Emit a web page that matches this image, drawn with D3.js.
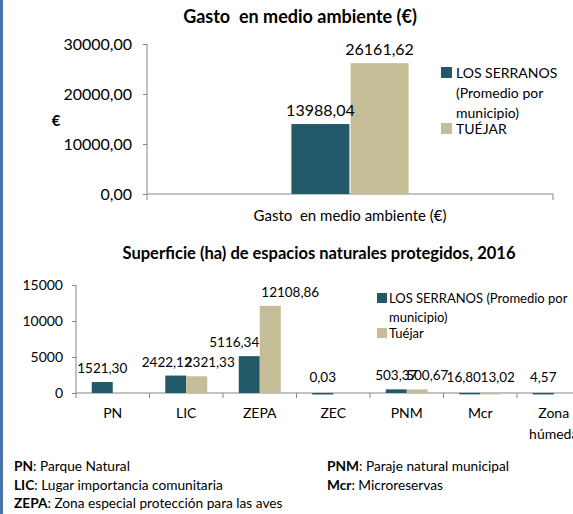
<!DOCTYPE html>
<html>
<head>
<meta charset="utf-8">
<title>Gasto y superficie protegida</title>
<style>
  body { margin: 0; background: #fff; }
  svg text { font-family: Lato, "Open Sans", sans-serif; fill: #000; white-space: pre; }
  .axis path, .axis line { stroke: #868686; }
</style>
<script src="https://d3js.org/d3.v7.min.js"></script>
</head>
<body>
<div id="chart"></div>
<script>
// --- data ---
var gastoCategory = ["Gasto  en medio ambiente (€)"];
var gastoSeries = ["LOS SERRANOS (Promedio por municipio)", "TUÉJAR"];
var gastoValues = [13988.04, 26161.62];
var gastoTicks = [0, 10000, 20000, 30000];

var espCategories = ["PN", "LIC", "ZEPA", "ZEC", "PNM", "Mcr", "Zona húmeda"];
var espSeries = ["LOS SERRANOS (Promedio por municipio)", "Tuéjar"];
var serranos = [1521.30, 2422.12, 5116.34, 0.03, 503.37, 16.80, 4.57];
var tuejar = [0, 2321.33, 12108.86, 0, 500.67, 13.02, 0];
var espTicks = [0, 5000, 10000, 15000];

var colors = ["#215968", "#c4bd97"];
var fmt = function(v) { return d3.format(".2f")(v).replace(".", ","); };

var width = 573, height = 514;
var svg = d3.select("#chart").append("svg")
  .attr("width", width).attr("height", height);

svg.append("rect").attr("x", 0).attr("y", 0).attr("width", 3).attr("height", height)
  .attr("fill", "#4a72a8");

// ---------- chart 1 ----------
var y1 = d3.scaleLinear().domain([0, 30000]).range([194, 44]);
var x1 = d3.scaleBand().domain(gastoCategory).range([147, 553]);
var x1s = d3.scaleBand().domain(gastoSeries).range([0, x1.bandwidth()]).paddingInner(0.02).paddingOuter(2.44);

svg.append("text").attr("x", 300).attr("y", 23).attr("text-anchor", "middle")
  .style("font-size", "18px").style("font-weight", "bold")
  .text("Gasto  en medio ambiente (€)");

var ax1 = svg.append("g").attr("class", "axis").attr("transform", "translate(147,0)")
  .call(d3.axisLeft(y1).tickValues(gastoTicks).tickSize(4).tickPadding(11).tickFormat(fmt));
ax1.select(".domain").attr("d", "M0,44V194");
ax1.selectAll("text").style("font-size", "16px");

var bx1 = svg.append("g").attr("class", "axis").attr("transform", "translate(0,194)");
bx1.append("line").attr("x1", 147).attr("x2", 553).attr("stroke", "#868686");
bx1.selectAll("line.t").data([147, 553]).enter().append("line").attr("class", "t")
  .attr("x1", function(d) { return d; }).attr("x2", function(d) { return d; })
  .attr("y1", 0).attr("y2", 6).attr("stroke", "#868686");
svg.append("text").attr("x", x1(gastoCategory[0]) + x1.bandwidth() / 2).attr("y", 221)
  .attr("text-anchor", "middle").style("font-size", "15px").text(gastoCategory[0]);

svg.append("text").attr("x", 56).attr("y", 126).attr("text-anchor", "middle")
  .style("font-size", "15px").style("font-weight", "bold").text("€");

var g1 = svg.append("g");
g1.selectAll("rect").data(gastoValues).enter().append("rect")
  .attr("x", function(d, i) { return x1(gastoCategory[0]) + x1s(gastoSeries[i]); })
  .attr("y", function(d) { return y1(d); })
  .attr("width", x1s.bandwidth())
  .attr("height", function(d) { return 194 - y1(d); })
  .attr("fill", function(d, i) { return colors[i]; });
g1.selectAll("text").data(gastoValues).enter().append("text")
  .attr("x", function(d, i) { return x1(gastoCategory[0]) + x1s(gastoSeries[i]) + x1s.bandwidth() / 2; })
  .attr("y", function(d) { return y1(d) - 8; })
  .attr("text-anchor", "middle").style("font-size", "16px").text(fmt);

var leg1 = svg.append("g");
var leg1Lines = [["LOS SERRANOS", "(Promedio por", "municipio)"], ["TUÉJAR"]];
var leg1Y = [67, 123];
leg1Lines.forEach(function(lines, i) {
  leg1.append("rect").attr("x", 441).attr("y", leg1Y[i]).attr("width", 11).attr("height", 11)
    .attr("fill", colors[i]);
  var t = leg1.append("text").attr("x", 456).attr("y", leg1Y[i] + 11).style("font-size", "14px");
  lines.forEach(function(l, j) {
    t.append("tspan").attr("x", 456).attr("dy", j ? 20 : 0).text(l);
  });
});

// ---------- chart 2 ----------
var y2 = d3.scaleLinear().domain([0, 15000]).range([393, 285]);
var x2 = d3.scaleBand().domain(espCategories).range([76, 76 + 73.5 * espCategories.length]);
var x2s = d3.scaleBand().domain(espSeries).range([0, x2.bandwidth()]).paddingOuter(0.75);

svg.append("text").attr("x", 319).attr("y", 259).attr("text-anchor", "middle")
  .style("font-size", "16.5px").style("font-weight", "bold")
  .text("Superficie (ha) de espacios naturales protegidos, 2016");

var ax2 = svg.append("g").attr("class", "axis").attr("transform", "translate(76,0)")
  .call(d3.axisLeft(y2).tickValues(espTicks).tickSize(4).tickPadding(9).tickFormat(d3.format("d")));
ax2.select(".domain").attr("d", "M0,285V393");
ax2.selectAll("text").style("font-size", "14px");

var bx2 = svg.append("g").attr("class", "axis").attr("transform", "translate(0,393)");
bx2.append("line").attr("x1", 76).attr("x2", width).attr("stroke", "#868686");
bx2.selectAll("line.t").data(espCategories.concat(["end"])).enter().append("line").attr("class", "t")
  .attr("x1", function(d, i) { return 76 + i * x2.step(); })
  .attr("x2", function(d, i) { return 76 + i * x2.step(); })
  .attr("y1", 0).attr("y2", 5).attr("stroke", "#868686");
espCategories.forEach(function(c) {
  var t = svg.append("text").attr("x", x2(c) + x2.bandwidth() / 2).attr("y", 418)
    .attr("text-anchor", "middle").style("font-size", "14px");
  c.split(" ").forEach(function(w, j) {
    t.append("tspan").attr("x", x2(c) + x2.bandwidth() / 2).attr("dy", j ? 21 : 0).text(w);
  });
});

// small horizontal nudges that keep overlapping value labels apart, as in the original
var labelNudge = [[0, 0], [-9, 13], [-15, 20], [0, 0], [0, 10], [-6, 7], [0, 0]];
[serranos, tuejar].forEach(function(series, s) {
  var g = svg.append("g");
  g.selectAll("rect").data(series).enter().append("rect")
    .attr("x", function(d, i) { return x2(espCategories[i]) + x2s(espSeries[s]); })
    .attr("y", function(d) { return y2(d); })
    .attr("width", x2s.bandwidth())
    .attr("height", function(d) { return Math.max(393 - y2(d), d > 0 ? 1.5 : 0); })
    .attr("fill", colors[s]);
  g.selectAll("text").data(series).enter().filter(function(d) { return d > 0; }).append("text")
    .attr("x", function(d) {
      var i = series.indexOf(d);
      return x2(espCategories[i]) + x2s(espSeries[s]) + x2s.bandwidth() / 2 + labelNudge[i][s];
    })
    .attr("y", function(d) { return Math.min(y2(d), 391) - 9; })
    .attr("text-anchor", "middle").style("font-size", "13.5px").text(fmt);
});

var leg2 = svg.append("g");
var leg2Lines = [["LOS SERRANOS (Promedio por", "municipio)"], ["Tuéjar"]];
var leg2Y = [293, 328];
leg2Lines.forEach(function(lines, i) {
  leg2.append("rect").attr("x", 377).attr("y", leg2Y[i]).attr("width", 10).attr("height", 10)
    .attr("fill", colors[i]);
  var t = leg2.append("text").attr("x", 389).attr("y", leg2Y[i] + 10).style("font-size", "13px");
  lines.forEach(function(l, j) {
    t.append("tspan").attr("x", 389).attr("dy", j ? 19 : 0).text(l);
  });
});

// ---------- footnotes ----------
var notes = [["PN", ": Parque Natural"], ["LIC", ": Lugar importancia comunitaria"],
             ["ZEPA", ": Zona especial protección para las aves"],
             ["PNM", ": Paraje natural municipal"], ["Mcr", ": Microreservas"]];
notes.forEach(function(n, i) {
  var col = i < 3 ? 0 : 1, row = i < 3 ? i : i - 3;
  var t = svg.append("text").attr("x", col ? 327 : 14).attr("y", 471 + row * 18.5)
    .style("font-size", "13.7px");
  t.append("tspan").style("font-weight", "bold").text(n[0]);
  t.append("tspan").text(n[1]);
});
</script>
</body>
</html>
